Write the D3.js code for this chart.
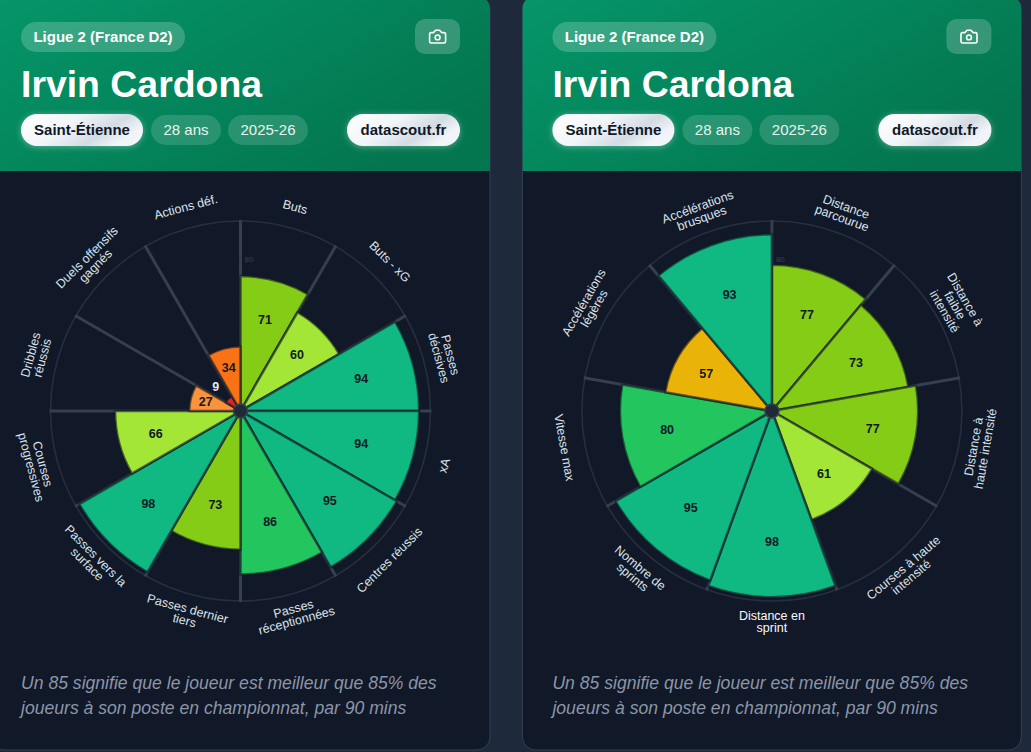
<!DOCTYPE html>
<html lang="fr">
<head>
<meta charset="utf-8">
<title>Irvin Cardona</title>
<script src="https://cdn.jsdelivr.net/npm/d3@7/dist/d3.min.js"></script>
<style>
  html, body { margin: 0; padding: 0; background: #1e293b; overflow: hidden; }
  svg { display: block; }
  text { font-family: "Liberation Sans", Arial, sans-serif; }
</style>
</head>
<body>
<script>
// Percentile profile, one list per pizza chart.
const playerName = "Irvin Cardona";
const league = "Ligue 2 (France D2)";
const club = "Saint-Étienne";
const age = "28 ans";
const season = "2025-26";
const site = "datascout.fr";
const noteLines = [
  "Un 85 signifie que le joueur est meilleur que 85% des",
  "joueurs à son poste en championnat, par 90 mins"
];

const techLabels = [
  ["Buts"], ["Buts - xG"], ["Passes", "décisives"], ["xA"], ["Centres réussis"],
  ["Passes", "réceptionnées"], ["Passes dernier", "tiers"], ["Passes vers la", "surface"],
  ["Courses", "progressives"], ["Dribbles", "réussis"], ["Duels offensifs", "gagnés"], ["Actions déf."]
];
const techValues = [71, 60, 94, 94, 95, 86, 73, 98, 66, 27, 9, 34];

const physLabels = [
  ["Distance", "parcourue"], ["Distance à", "faible", "intensité"], ["Distance à", "haute intensité"],
  ["Courses à haute", "intensité"], ["Distance en", "sprint"], ["Nombre de", "sprints"],
  ["Vitesse max"], ["Accélérations", "légères"], ["Accélérations", "brusques"]
];
const physValues = [77, 73, 77, 61, 98, 95, 80, 57, 93];

const ringTicks = [20, 40, 60, 80];
const colorBreaks = [20, 30, 50, 60, 70, 78, 90];
const colorSteps = ["#dc2626", "#fb923c", "#f97316", "#eab308", "#a3e635", "#84cc16", "#22c55e", "#10b981"];

const width = 1031, height = 752;
const svg = d3.select("body").append("svg").attr("width", width).attr("height", height);
const defs = svg.append("defs");

const headerGrad = defs.append("linearGradient").attr("id", "headerGrad")
  .attr("x1", "0%").attr("y1", "0%").attr("x2", "100%").attr("y2", "60%");
headerGrad.append("stop").attr("offset", "0%").attr("stop-color", "#059669");
headerGrad.append("stop").attr("offset", "100%").attr("stop-color", "#03764f");

const pillGrad = defs.append("linearGradient").attr("id", "pillGrad")
  .attr("x1", "0%").attr("y1", "0%").attr("x2", "100%").attr("y2", "40%");
pillGrad.append("stop").attr("offset", "0%").attr("stop-color", "#ffffff");
pillGrad.append("stop").attr("offset", "45%").attr("stop-color", "#f1f5f9");
pillGrad.append("stop").attr("offset", "78%").attr("stop-color", "#d3dbe3");
pillGrad.append("stop").attr("offset", "100%").attr("stop-color", "#f1f5f9");

const glow = defs.append("filter").attr("id", "glow")
  .attr("x", "-20%").attr("y", "-40%").attr("width", "140%").attr("height", "180%");
glow.append("feDropShadow").attr("dx", 0).attr("dy", 1).attr("stdDeviation", 3)
  .attr("flood-color", "#ffffff").attr("flood-opacity", 0.35);

const color = d3.scaleThreshold().domain(colorBreaks).range(colorSteps);
const radius = d3.scaleLinear().domain([0, 100]).range([0, 190]);
const LABEL_RADIUS = 211;
const centerY = 411;

function pill(g, x, y, w, h, label, opts) {
  const r = g.append("rect").attr("x", x).attr("y", y).attr("width", w).attr("height", h)
    .attr("rx", h / 2).attr("fill", opts.fill).attr("fill-opacity", opts.alpha == null ? 1 : opts.alpha);
  if (opts.filter) r.attr("filter", opts.filter);
  g.append("text").attr("x", x + w / 2).attr("y", y + h / 2 + 5)
    .attr("text-anchor", "middle").attr("font-size", 15)
    .attr("font-weight", opts.bold ? 700 : 400).attr("fill", opts.ink).text(label);
}

function drawCard(cardLeft, labels, values) {
  const g = svg.append("g").attr("transform", `translate(${cardLeft},0)`);
  const clipId = "clip" + Math.round(cardLeft);
  const cardW = 499;
  defs.append("clipPath").attr("id", clipId).append("rect")
    .attr("x", 0).attr("y", -4).attr("width", cardW).attr("height", 754).attr("rx", 13);

  // Card body and green header
  g.append("rect").attr("x", 0).attr("y", -4).attr("width", cardW).attr("height", 754).attr("rx", 13)
    .attr("fill", "#111827").attr("stroke", "#334155");
  const clipped = g.append("g").attr("clip-path", `url(#${clipId})`);
  clipped.append("rect").attr("x", 0).attr("y", -4).attr("width", cardW).attr("height", 175)
    .attr("fill", "url(#headerGrad)");

  const x0 = 30;
  pill(g, x0, 22, 164, 30, league, { fill: "#ffffff", alpha: 0.2, ink: "#ffffff", bold: true });
  g.append("rect").attr("x", x0 + 394).attr("y", 19).attr("width", 45).attr("height", 35).attr("rx", 10)
    .attr("fill", "#ffffff").attr("fill-opacity", 0.2);
  const icon = g.append("g").attr("transform", `translate(${x0 + 407},27) scale(0.8)`)
    .attr("fill", "none").attr("stroke", "#ffffff").attr("stroke-width", 2)
    .attr("stroke-linecap", "round").attr("stroke-linejoin", "round");
  icon.append("path").attr("d", "M14.5 4h-5L7 7H4a2 2 0 0 0-2 2v9a2 2 0 0 0 2 2h16a2 2 0 0 0 2-2V9a2 2 0 0 0-2-2h-3l-2.5-3z");
  icon.append("circle").attr("cx", 12).attr("cy", 13).attr("r", 3);

  g.append("text").attr("x", x0).attr("y", 97).attr("font-size", 37.4).attr("font-weight", 700)
    .attr("fill", "#ffffff").text(playerName);

  pill(g, x0, 114, 122, 32, club, { fill: "url(#pillGrad)", ink: "#111827", bold: true, filter: "url(#glow)" });
  pill(g, x0 + 130, 115, 70, 30, age, { fill: "#ffffff", alpha: 0.15, ink: "#e8f5ef" });
  pill(g, x0 + 207, 115, 80, 30, season, { fill: "#ffffff", alpha: 0.15, ink: "#e8f5ef" });
  pill(g, x0 + 326, 114, 113, 32, site, { fill: "url(#pillGrad)", ink: "#111827", bold: true, filter: "url(#glow)" });

  g.selectAll("text.note").data(noteLines).join("text").attr("class", "note")
    .attr("x", x0).attr("y", (d, i) => 689 + i * 25)
    .attr("font-size", 17.6).attr("font-style", "italic").attr("fill", "#8b96a8").text(d => d);

  // Polar plot
  const cx = 249.5;
  const plot = g.append("g").attr("transform", `translate(${cx},${centerY})`);
  const idx = values.map((_, i) => i);
  const angle = d3.scaleBand().domain(idx).range([0, 2 * Math.PI]).paddingInner(0).paddingOuter(0);
  const maxR = radius(100);

  plot.selectAll("circle.ring").data(ringTicks).join("circle").attr("class", "ring")
    .attr("r", d => radius(d)).attr("fill", "none")
    .attr("stroke", "#161e2d").attr("stroke-width", 1).attr("stroke-dasharray", "2 3");
  plot.append("circle").attr("r", maxR).attr("fill", "none").attr("stroke", "#262f3f").attr("stroke-width", 1.6);
  plot.selectAll("text.tick").data(ringTicks).join("text").attr("class", "tick")
    .attr("x", 4).attr("y", d => -radius(d) + 3).attr("font-size", 8).attr("fill", "#384252").text(d => d);

  const polar = (a, r) => [r * Math.sin(a), -r * Math.cos(a)];
  plot.selectAll("line.spoke").data(idx).join("line").attr("class", "spoke")
    .attr("x1", 0).attr("y1", 0)
    .attr("x2", d => polar(angle(d), maxR + 1)[0])
    .attr("y2", d => polar(angle(d), maxR + 1)[1])
    .attr("stroke", "#363f4e").attr("stroke-width", 3);

  const arc = d3.arc().innerRadius(0);
  plot.selectAll("path.sector").data(idx).join("path").attr("class", "sector")
    .attr("d", d => arc({
      outerRadius: radius(values[d]),
      startAngle: angle(d),
      endAngle: angle(d) + angle.bandwidth()
    }))
    .attr("fill", d => color(values[d]))
    .attr("stroke", "#111827").attr("stroke-opacity", 0.62).attr("stroke-width", 2.5)
    .attr("stroke-linejoin", "round");

  plot.append("circle").attr("r", 7).attr("fill", "#1f2937").attr("stroke", "#374151").attr("stroke-width", 1.5);

  const mid = d => angle(d) + angle.bandwidth() / 2;
  plot.selectAll("text.value").data(idx).join("text").attr("class", "value")
    .attr("transform", d => {
      const p = polar(mid(d), Math.max(radius(values[d]) * 0.7, 35));
      return `translate(${p[0]},${p[1]})`;
    })
    .attr("text-anchor", "middle").attr("dy", 4.5).attr("font-size", 12.5).attr("font-weight", 700)
    .attr("fill", d => values[d] < 20 ? "#e5e7eb" : "#111827")
    .text(d => values[d]);

  // Category labels follow the rim and flip over in the lower half
  const labelGroups = plot.selectAll("g.cat").data(idx).join("g").attr("class", "cat")
    .attr("transform", d => {
      const a = mid(d), deg = a * 180 / Math.PI;
      const p = polar(a, LABEL_RADIUS);
      const rot = deg > 90 && deg < 270 ? deg - 180 : deg;
      return `translate(${p[0]},${p[1]}) rotate(${rot})`;
    });
  labelGroups.each(function (d) {
    const lines = labels[d];
    const straight = Math.abs(mid(d) - Math.PI) < 1e-6;
    d3.select(this).selectAll("text").data(lines).join("text")
      .attr("text-anchor", "middle")
      .attr("y", (l, i) => (i - (lines.length - 1) / 2) * 12 + 4)
      .attr("font-size", 12.5)
      .attr("fill", straight ? "#f8fafc" : "#dbe2ea")
      .text(l => l);
  });
}

drawCard(-9, techLabels, techValues);
drawCard(522.4, physLabels, physValues);
</script>
</body>
</html>
